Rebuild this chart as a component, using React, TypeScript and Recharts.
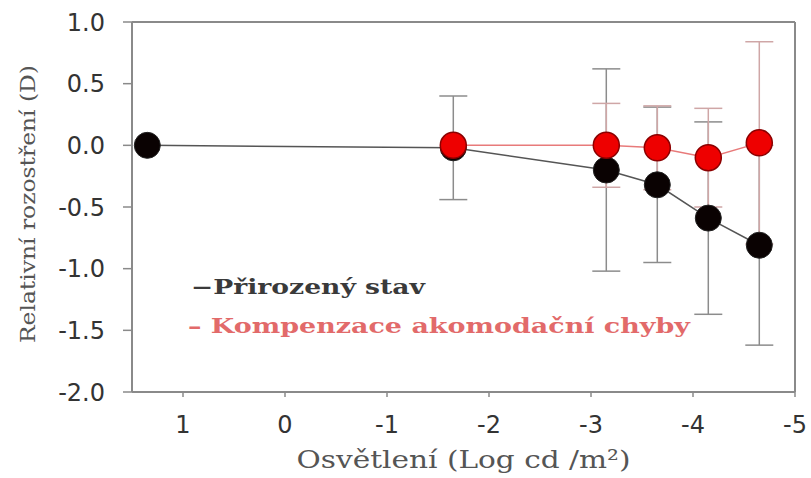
import { CartesianGrid, ComposedChart, ErrorBar, Label, Line, ReferenceLine, XAxis, YAxis } from 'recharts';

// illumination (log cd/m2) for each measurement
const naturalX = [1.35, -1.65, -3.15, -3.65, -4.15, -4.65];
const naturalY = [0, -0.02, -0.2, -0.32, -0.59, -0.81];
const naturalErr = [0, 0.42, 0.82, 0.63, 0.78, 0.81];

const compX = [-1.65, -3.15, -3.65, -4.15, -4.65];
const compY = [0, 0, -0.02, -0.1, 0.02];
const compErr = [0, 0.34, 0.34, 0.4, 0.82];

const xTicks = [1, 0, -1, -2, -3, -4, -5];
const yTicks = [-2, -1.5, -1, -0.5, 0, 0.5, 1];

const legendNatural = '−Přirozený stav';
const legendComp = '– Kompenzace akomodační chyby';

const naturalData = naturalX.map((x, i) => ({ x, y: naturalY[i], err: naturalErr[i] }));
const compData = compX.map((x, i) => ({ x, y: compY[i], err: compErr[i] }));

const axisColor = '#8a8a8a';
const tickStyle = { fontFamily: 'DejaVu Sans', fontSize: 24, fill: '#333' };

function App() {
    return <div style={{ position: 'absolute', left: 0, top: 0, width: 811, height: 478, background: '#fff' }}>
        <ComposedChart width={811} height={478} margin={{ top: 22, right: 16, left: 0, bottom: 0 }}>
            <CartesianGrid stroke="none" />
            <XAxis type="number" dataKey="x" domain={[-5, 1.5]} reversed allowDataOverflow
                ticks={xTicks} height={86} tickSize={5} tickMargin={19}
                stroke={axisColor} strokeWidth={2} tick={tickStyle} tickLine={{ stroke: axisColor, strokeWidth: 1.5 }}>
                <Label content={({ viewBox }: any) => (
                    <text x={viewBox.x + viewBox.width / 2} y={468} textAnchor="middle"
                        fontFamily="DejaVu Serif" fontSize={25} fill="#555" textLength={334} lengthAdjust="spacingAndGlyphs">
                        Osvětlení (Log cd /m²)
                    </text>
                )} />
            </XAxis>
            <YAxis type="number" domain={[-2, 1]} ticks={yTicks} width={132} tickSize={9} tickMargin={18}
                allowDataOverflow tickFormatter={(v: number) => v.toFixed(1)}
                stroke={axisColor} strokeWidth={2} tick={tickStyle} tickLine={{ stroke: axisColor, strokeWidth: 1.5 }}>
                <Label content={({ viewBox }: any) => {
                    const cy = viewBox.y + viewBox.height / 2 - 3;
                    return <text x={35} y={cy} transform={`rotate(-90 35 ${cy})`} textAnchor="middle"
                        fontFamily="DejaVu Serif" fontSize={21} fill="#555" textLength={278} lengthAdjust="spacingAndGlyphs">
                        Relativní rozostření (D)
                    </text>;
                }} />
            </YAxis>
            {/* closing the frame on top and right */}
            <ReferenceLine y={1} stroke={axisColor} strokeWidth={2} />
            <ReferenceLine x={-5} stroke={axisColor} strokeWidth={2} />

            <Line data={naturalData} dataKey="y" type="linear" stroke="#555" strokeWidth={1.5}
                dot={{ r: 13, fill: '#0a0202', stroke: '#222', strokeWidth: 1 }} activeDot={false} isAnimationActive={false}>
                <ErrorBar dataKey="err" direction="y" width={14} stroke="#8c8c8c" strokeWidth={1.5} />
            </Line>
            <Line data={compData} dataKey="y" type="linear" stroke="#e87a7a" strokeWidth={1.5}
                dot={{ r: 13, fill: '#ee0000', stroke: '#8b0000', strokeWidth: 1.5 }} activeDot={false} isAnimationActive={false}>
                <ErrorBar dataKey="err" direction="y" width={14} stroke="#cfa6a6" strokeWidth={1.5} />
            </Line>
        </ComposedChart>

        {/* legend written inside the plot like the original */}
        <svg width={811} height={478} style={{ position: 'absolute', left: 0, top: 0, pointerEvents: 'none' }}>
            <text x={191} y={294} fontFamily="DejaVu Serif" fontWeight="bold" fontSize={20} fill="#3a3a3a"
                textLength={234} lengthAdjust="spacingAndGlyphs">{legendNatural}</text>
            <text x={188} y={333} fontFamily="DejaVu Serif" fontWeight="bold" fontSize={20} fill="#e26a6a"
                textLength={502} lengthAdjust="spacingAndGlyphs">{legendComp}</text>
        </svg>
    </div>;
}

export default App;
